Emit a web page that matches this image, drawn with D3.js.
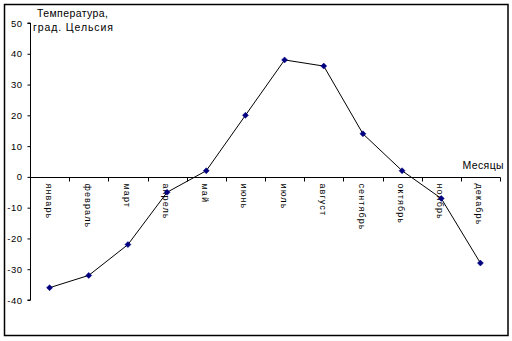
<!DOCTYPE html>
<html>
<head>
<meta charset="utf-8">
<script src="https://cdn.jsdelivr.net/npm/d3@7"></script>
<style>
  html, body { margin: 0; padding: 0; background: #fff; }
  svg { display: block; font-family: Arial, "Liberation Sans", sans-serif; }
</style>
</head>
<body>
<svg id="chart" width="512" height="341"></svg>
<script>
// Monthly temperatures, °C
const months = ["январь", "февраль", "март", "апрель", "май", "июнь",
                "июль", "август", "сентябрь", "октябрь", "ноябрь", "декабрь"];
const temps = [-36, -32, -22, -5, 2, 20, 38, 36, 14, 2, -7, -28];
const yTicks = [50, 40, 30, 20, 10, 0, -10, -20, -30, -40];

const svg = d3.select("#chart");

// frame around the whole chart area
svg.append("rect")
  .attr("x", 4.5).attr("y", 4.5)
  .attr("width", 503.5).attr("height", 331)
  .attr("fill", "#fff")
  .attr("stroke", "#000")
  .attr("stroke-width", 1.5);

const plot = { left: 30, right: 500, top: 23, bottom: 300 };

const x = d3.scaleBand()
  .domain(months)
  .range([plot.left, plot.right])
  .paddingInner(0).paddingOuter(0);

const y = d3.scaleLinear()
  .domain([-40, 50])
  .range([plot.bottom, plot.top]);

// vertical value axis
const yAxis = d3.axisLeft(y)
  .tickValues(yTicks)
  .tickSize(3)
  .tickPadding(5)
  .tickFormat(d => d < 0 ? "-" + Math.abs(d) : d);

const gy = svg.append("g")
  .attr("transform", `translate(${plot.left + 0.5},0)`)
  .call(yAxis);
gy.select(".domain").attr("stroke", "#000").attr("d", `M-3,${y(50)}H0V${y(-40)}H-3`);
gy.selectAll(".tick line").attr("stroke", "#000");
gy.selectAll(".tick text")
  .attr("fill", "#000")
  .style("font-size", "9.5px")
  .style("letter-spacing", "0.5px");

// horizontal category axis at zero
const y0 = Math.round(y(0)) + 0.5;
svg.append("line")
  .attr("x1", plot.left).attr("x2", plot.right + 0.5)
  .attr("y1", y0).attr("y2", y0)
  .attr("stroke", "#000");

const tickXs = months.map(m => x(m)).concat([plot.right]);
svg.append("g").selectAll("line")
  .data(tickXs.slice(1))
  .join("line")
  .attr("x1", d => Math.round(d) + 0.5).attr("x2", d => Math.round(d) + 0.5)
  .attr("y1", y0).attr("y2", y0 + 4)
  .attr("stroke", "#000");

// rotated month names
svg.append("g").selectAll("text")
  .data(months)
  .join("text")
  .attr("transform", d => `translate(${x(d) + x.bandwidth() / 2 - 4},${y0 + 6}) rotate(90)`)
  .attr("text-anchor", "start")
  .style("font-size", "9px")
  .style("letter-spacing", "1.1px")
  .attr("fill", "#000")
  .text(d => d);

// temperature line
const line = d3.line()
  .x((d, i) => x(months[i]) + x.bandwidth() / 2)
  .y(d => y(d));

svg.append("path")
  .datum(temps)
  .attr("d", line)
  .attr("fill", "none")
  .attr("stroke", "#000")
  .attr("stroke-width", 1);

// diamond markers
svg.append("g").selectAll("path")
  .data(temps)
  .join("path")
  .attr("transform", (d, i) => `translate(${x(months[i]) + x.bandwidth() / 2},${y(d)})`)
  .attr("d", "M0,-3L3,0L0,3L-3,0Z")
  .attr("fill", "#000080")
  .attr("stroke", "#000080")
  .attr("stroke-width", 0.5);

// axis titles
const title = svg.append("text")
  .style("font-size", "10.5px")
  .attr("fill", "#000");
title.append("tspan").attr("x", 37).attr("y", 17)
  .style("letter-spacing", "0.4px").text("Температура,");
title.append("tspan").attr("x", 33).attr("y", 31)
  .style("letter-spacing", "0.9px").text("град. Цельсия");

svg.append("text")
  .attr("x", 504).attr("y", 169)
  .attr("text-anchor", "end")
  .style("font-size", "10.5px")
  .style("letter-spacing", "0.4px")
  .attr("fill", "#000")
  .text("Месяцы");
</script>
</body>
</html>
